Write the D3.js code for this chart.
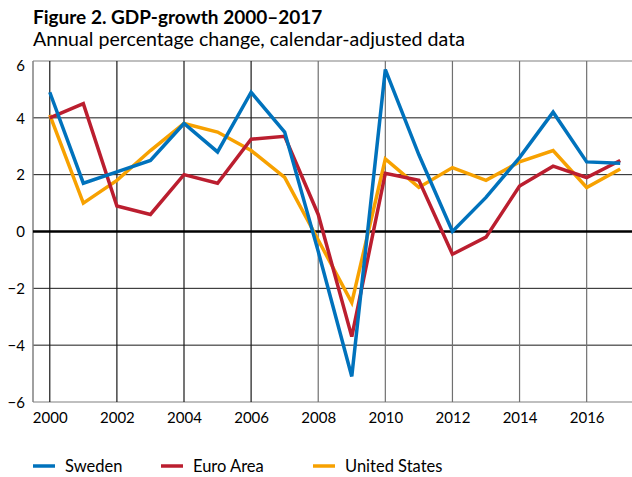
<!DOCTYPE html>
<html><head><meta charset="utf-8">
<script src="https://cdn.jsdelivr.net/npm/d3@7"></script>
<style>
html,body{margin:0;padding:0;background:#fff;}
svg{display:block;font-family:Lato, "Open Sans", sans-serif;}
</style></head>
<body>
<svg id="c" width="632" height="477"></svg>
<script>
const years = [2000,2001,2002,2003,2004,2005,2006,2007,2008,2009,2010,2011,2012,2013,2014,2015,2016,2017];
const sweden = [4.9,1.7,2.1,2.5,3.8,2.8,4.9,3.5,-0.7,-5.1,5.7,2.7,0.0,1.2,2.6,4.2,2.45,2.4];
const euroArea = [4.0,4.5,0.9,0.6,2.0,1.7,3.25,3.35,0.6,-3.7,2.05,1.8,-0.8,-0.2,1.6,2.3,1.9,2.5];
const unitedStates = [4.1,1.0,1.8,2.85,3.8,3.5,2.85,1.9,-0.3,-2.5,2.55,1.55,2.25,1.8,2.45,2.85,1.55,2.2];
const yTicks = [-6,-4,-2,0,2,4,6];
const xTicks = [2000,2002,2004,2006,2008,2010,2012,2014,2016];
const seriesNames = ["Sweden","Euro Area","United States"];
const seriesColors = ["#0072bc","#bb1e2f","#f7a100"];
const title = "Figure 2. GDP-growth 2000\u20132017";
const subtitle = "Annual percentage change, calendar-adjusted data";

const svg = d3.select("#c");
const L = 33, R = 637, T = 61, B = 402;
const x = d3.scaleLinear().domain([1999.5, 2017.5]).range([L, R]);
const y = d3.scaleLinear().domain([-6, 6]).range([B, T]);

svg.append("text").attr("x", 33).attr("y", 23.5).attr("font-weight", "bold")
  .attr("font-size", 19).attr("fill", "#000").text(title);
svg.append("text").attr("x", 33).attr("y", 45.5)
  .attr("font-size", 19.6).attr("fill", "#000").text(subtitle);

const g = svg.append("g");
// horizontal grid
g.selectAll("line.h").data(yTicks.filter(d => d !== 0 && Math.abs(d) !== 6)).join("line")
  .attr("x1", L).attr("x2", 632).attr("y1", d => y(d)).attr("y2", d => y(d))
  .attr("stroke", "#1a1a1a").attr("stroke-width", 1);
// top & bottom borders
g.selectAll("line.tb").data([6, -6]).join("line")
  .attr("x1", L).attr("x2", 632).attr("y1", d => y(d)).attr("y2", d => y(d))
  .attr("stroke", "#808080").attr("stroke-width", 1.2);
// vertical grid
g.selectAll("line.v").data(xTicks).join("line")
  .attr("x1", d => x(d)).attr("x2", d => x(d)).attr("y1", T).attr("y2", B)
  .attr("stroke", d => d <= 2006 ? "#1a1a1a" : "#707070").attr("stroke-width", 1.2);
// left axis
g.append("line").attr("x1", L).attr("x2", L).attr("y1", T).attr("y2", B)
  .attr("stroke", "#808080").attr("stroke-width", 1.5);

// y labels
const yAxis = d3.axisLeft(y).tickValues(yTicks).tickSize(0).tickPadding(8).tickFormat(d3.format("d"));
const ya = svg.append("g").attr("transform", `translate(${L},0)`).call(yAxis);
ya.select(".domain").remove();
ya.selectAll("text").attr("font-size", 15).attr("font-family", "Lato, 'Open Sans', sans-serif").attr("fill", "#000")
  .attr("dy", d => d === 6 ? "0.6em" : "0.35em");
// x labels
const xAxis = d3.axisBottom(x).tickValues(xTicks).tickSize(0).tickPadding(10).tickFormat(d3.format("d"));
const xa = svg.append("g").attr("transform", `translate(0,${B})`).call(xAxis);
xa.select(".domain").remove();
xa.selectAll("text").attr("font-size", 15).attr("font-family", "Lato, 'Open Sans', sans-serif").attr("fill", "#000");

// zero line
svg.append("line").attr("x1", L).attr("x2", 632).attr("y1", y(0)).attr("y2", y(0))
  .attr("stroke", "#000").attr("stroke-width", 2.5);

const line = d3.line().x((d, i) => x(years[i])).y(d => y(d));
const allSeries = [sweden, euroArea, unitedStates];
// draw order: US, Euro, Sweden on top
[2, 1, 0].forEach(i => {
  svg.append("path").datum(allSeries[i]).attr("d", line)
    .attr("fill", "none").attr("stroke", seriesColors[i]).attr("stroke-width", 3.5)
    .attr("stroke-linejoin", "miter").attr("stroke-miterlimit", 4);
});

// legend
const legX = [33, 161, 313];
const lg = svg.append("g");
seriesNames.forEach((n, i) => {
  lg.append("line").attr("x1", legX[i]).attr("x2", legX[i] + 22).attr("y1", 466).attr("y2", 466)
    .attr("stroke", seriesColors[i]).attr("stroke-width", 3.5);
  lg.append("text").attr("x", legX[i] + 32).attr("y", 466).attr("dy", "0.35em")
    .attr("font-size", 16.5).attr("fill", "#000").text(n);
});
</script>
</body></html>
